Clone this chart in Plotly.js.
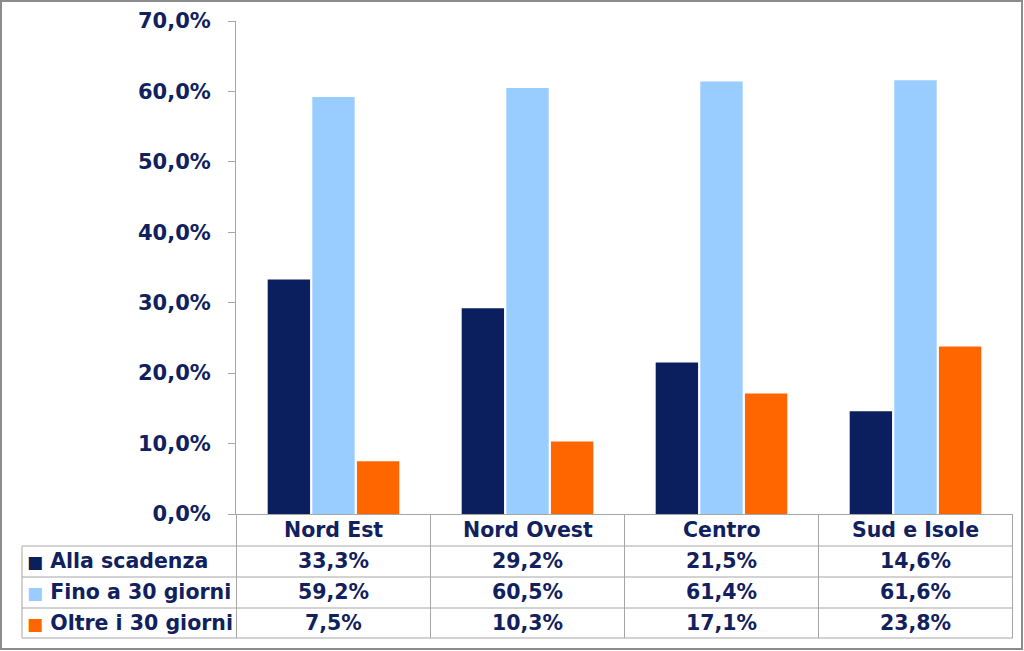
<!DOCTYPE html>
<html>
<head>
<meta charset="utf-8">
<script src="https://cdn.plot.ly/plotly-3.0.1.min.js"></script>
<style>html,body{margin:0;padding:0;background:#fff;}#chart{width:1024px;height:651px;}</style>
</head>
<body>
<div id="chart"></div>
<script>
const categories = ["Nord Est", "Nord Ovest", "Centro", "Sud e Isole"];
const seriesNames = ["Alla scadenza", "Fino a 30 giorni", "Oltre i 30 giorni"];
const allaScadenza = [0.333, 0.292, 0.215, 0.146];
const fino30 = [0.592, 0.605, 0.614, 0.616];
const oltre30 = [0.075, 0.103, 0.171, 0.238];
const seriesValues = [allaScadenza, fino30, oltre30];
const seriesColors = ["#0B1F5E", "#99CCFF", "#FF6600"];

const textColor = "#10215E";
const fam = "DejaVu Sans, Verdana, sans-serif";
const W = 1024, H = 651, L = 236, R = 11, T = 21, B = 137;
const pw = W - L - R, ph = H - T - B;
const px = x => (x - L) / pw;
const py = y => (H - B - y) / ph;

const traces = seriesValues.map((vals, i) => ({
  type: "bar", x: categories, y: vals, name: seriesNames[i],
  marker: {color: seriesColors[i]}, hoverinfo: "skip"
}));

function fmt(v) { return (v * 100).toFixed(1).replace(".", ",") + "%"; }

const tfont = {family: fam, size: 20.5, color: textColor, weight: "bold"};
const annotations = [];
const rowY = [530, 561, 592, 623];
categories.forEach((c, j) => {
  annotations.push({xref: "x", yref: "paper", x: j, y: py(rowY[0]), text: c, showarrow: false,
    xanchor: "center", yanchor: "middle", font: tfont});
});
seriesValues.forEach((vals, i) => {
  annotations.push({xref: "paper", yref: "paper", x: px(25), y: py(rowY[i + 1]),
    text: '<span style="color:' + seriesColors[i] + ';font-size:17px">■</span> ' + seriesNames[i], showarrow: false,
    xanchor: "left", yanchor: "middle", font: tfont});
  vals.forEach((v, j) => {
    annotations.push({xref: "x", yref: "paper", x: j, y: py(rowY[i + 1]), text: fmt(v), showarrow: false,
      xanchor: "center", yanchor: "middle", font: tfont});
  });
});

const lineC = "#A6A6A6";
const shapes = [];
[546, 577, 608, 638].forEach(y => shapes.push({type: "line", xref: "paper", yref: "paper",
  x0: px(22), x1: px(1013), y0: py(y), y1: py(y), line: {color: lineC, width: 1}}));
shapes.push({type: "line", xref: "paper", yref: "paper", x0: px(22), x1: px(22), y0: py(546), y1: py(638), line: {color: lineC, width: 1}});
[-0.5, 0.5, 1.5, 2.5, 3.5].forEach(x => shapes.push({type: "line", xref: "x", yref: "paper",
  x0: x, x1: x, y0: py(514), y1: py(638), line: {color: lineC, width: 1}}));
shapes.push({type: "rect", xref: "paper", yref: "paper", x0: px(1), x1: px(1022), y0: py(1), y1: py(649),
  line: {color: "#8C8C8C", width: 2}, fillcolor: "rgba(0,0,0,0)"});

const layout = {
  width: W, height: H,
  margin: {l: L, r: R, t: T, b: B, pad: 0},
  paper_bgcolor: "#fff", plot_bgcolor: "#fff",
  separators: ",.",
  showlegend: false,
  barmode: "group", bargap: 0.31, bargroupgap: 0.05,
  xaxis: {showticklabels: false, showline: true, linecolor: lineC, linewidth: 1, showgrid: false, zeroline: false, fixedrange: true},
  yaxis: {range: [0, 0.7], dtick: 0.1, tick0: 0, tickformat: ".1%", showgrid: false, zeroline: false,
    showline: true, linecolor: lineC, linewidth: 1, ticks: "outside", ticklen: 7, tickcolor: lineC,
    ticklabelstandoff: 13,
    tickfont: {family: fam, size: 21, color: textColor, weight: "bold"}},
  annotations: annotations,
  shapes: shapes
};
Plotly.newPlot("chart", traces, layout, {displayModeBar: false, staticPlot: true});
</script>
</body>
</html>
